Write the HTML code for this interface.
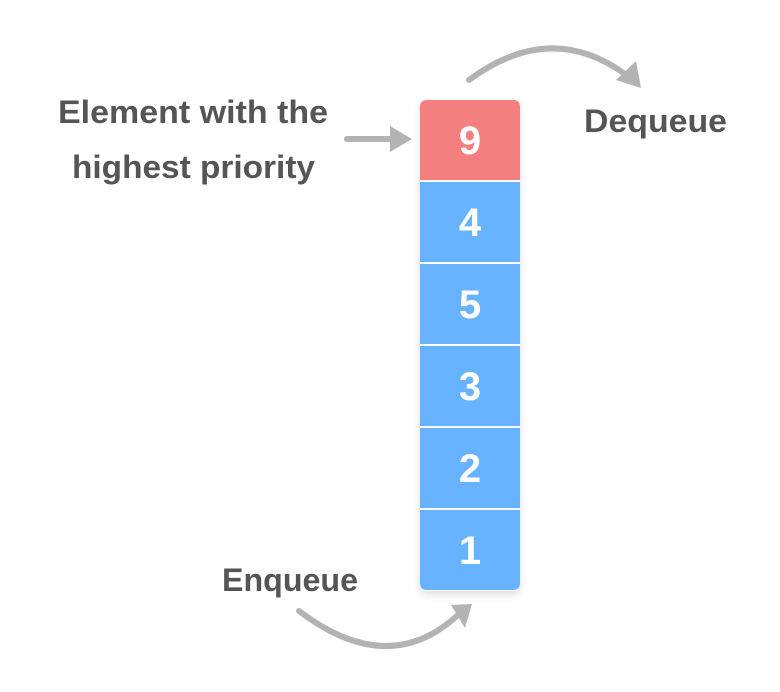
<!DOCTYPE html>
<html><head><meta charset="utf-8"><style>
body{margin:0;background:#fff;}
svg{display:block;font-family:"Liberation Sans",sans-serif;}
</style></head><body>
<svg width="780" height="692" viewBox="0 0 780 692">
<defs><filter id="sh" x="-20%" y="-20%" width="140%" height="140%"><feDropShadow dx="0" dy="4" stdDeviation="4" flood-color="#000" flood-opacity="0.12"/></filter></defs>
<g id="stack" filter="url(#sh)"></g>
<text x="58" y="123" textLength="270" lengthAdjust="spacingAndGlyphs" font-size="32" font-weight="bold" fill="#555">Element with the</text>
<text x="72" y="178" textLength="243" lengthAdjust="spacingAndGlyphs" font-size="32" font-weight="bold" fill="#555">highest priority</text>
<text x="584" y="132" textLength="143" lengthAdjust="spacingAndGlyphs" font-size="32" font-weight="bold" fill="#555">Dequeue</text>
<text x="222" y="591" textLength="136" lengthAdjust="spacingAndGlyphs" font-size="32" font-weight="bold" fill="#555">Enqueue</text>
<g>
<line x1="347" y1="139" x2="393" y2="139" stroke="#b3b3b3" stroke-width="6" stroke-linecap="round"/>
<polygon points="390,126 412,139 390,152" fill="#b3b3b3"/></g>
<g>
<path d="M469,80 Q550,20 625,74" fill="none" stroke="#b3b3b3" stroke-width="6" stroke-linecap="round"/>
<polygon points="616,80 636,61 641,88" fill="#b3b3b3"/></g>
<g>
<path d="M299,611 Q390,680 460,613" fill="none" stroke="#b3b3b3" stroke-width="6" stroke-linecap="round"/>
<polygon points="451,605 472,604 465,628" fill="#b3b3b3"/></g>
</svg>
<script>
const values=[9,4,5,3,2,1];
const colors=["#f47f7f","#67b3ff"];
const g=document.getElementById('stack');
const ns="http://www.w3.org/2000/svg";
const top0=100,cellH=82,x0=420,w=100,n=values.length;
const bg=document.createElementNS(ns,'rect');
bg.setAttribute('x',x0);bg.setAttribute('y',top0);bg.setAttribute('width',w);bg.setAttribute('height',cellH*n-1);bg.setAttribute('rx',7);bg.setAttribute('fill','#fff');


g.appendChild(bg);
values.forEach((v,i)=>{
  const y=top0+i*cellH;
  const r=document.createElementNS(ns,'path');
  const h=cellH-2, rr=7;
  let d;
  if(i===0) d=`M${x0},${y+h} V${y+rr} Q${x0},${y} ${x0+rr},${y} H${x0+w-rr} Q${x0+w},${y} ${x0+w},${y+rr} V${y+h} Z`;
  else if(i===n-1) d=`M${x0},${y} H${x0+w} V${y+h-rr} Q${x0+w},${y+h} ${x0+w-rr},${y+h} H${x0+rr} Q${x0},${y+h} ${x0},${y+h-rr} Z`;
  else d=`M${x0},${y} H${x0+w} V${y+h} H${x0} Z`;
  r.setAttribute('d',d);
  r.setAttribute('fill',i===0?colors[0]:colors[1]);
  
  
  g.appendChild(r);
  const t=document.createElementNS(ns,'text');
  t.setAttribute('x',x0+w/2);t.setAttribute('y',y+h/2+14);
  t.setAttribute('text-anchor','middle');t.setAttribute('font-size','40');t.setAttribute('font-weight','bold');t.setAttribute('fill','#fff');
  t.textContent=v;
  
  
  g.appendChild(t);
});
</script>
</body></html>
